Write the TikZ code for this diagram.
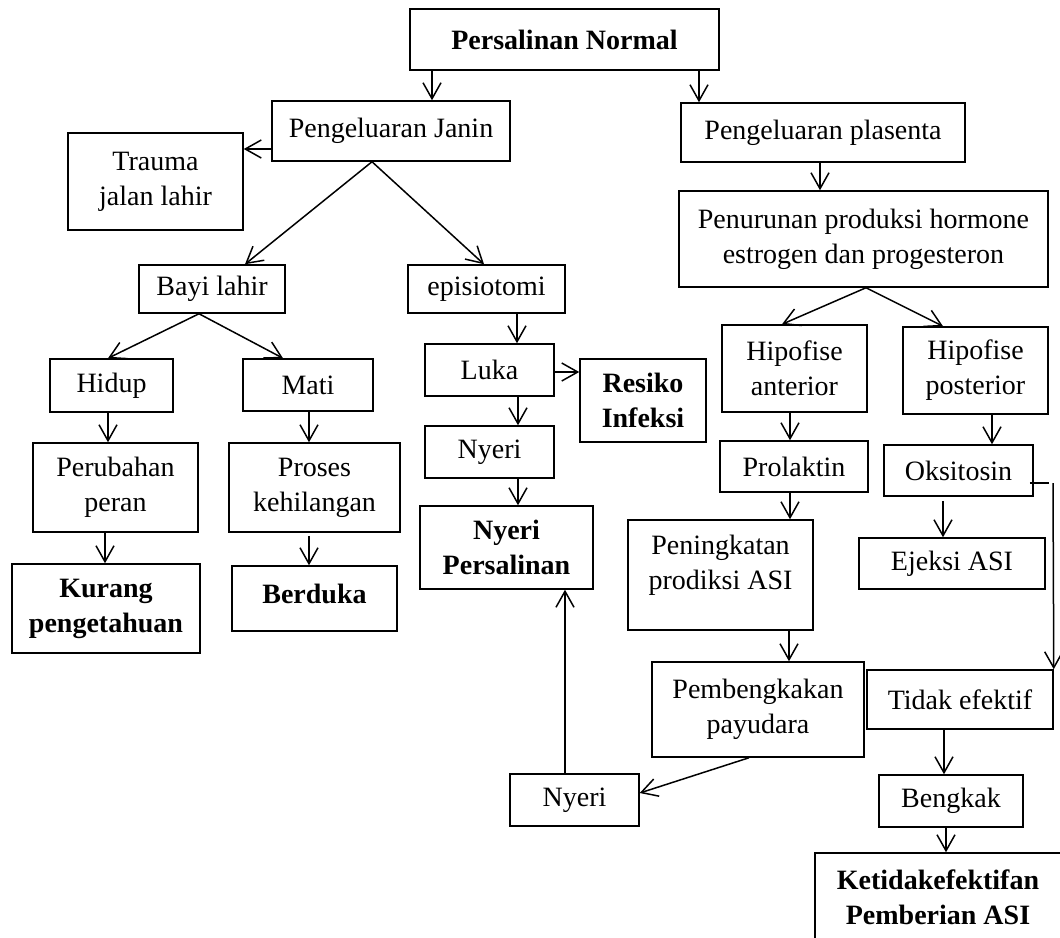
\documentclass[tikz,border=0pt]{standalone}
\usepackage{fontspec}
\setmainfont{Liberation Serif}
\usetikzlibrary{arrows.meta}
\begin{document}
\begin{tikzpicture}[x=0.5pt,y=-0.5pt,
  box/.style={draw, line width=0.75pt, align=center, inner sep=0pt, font=\fontsize{14}{17.5}\selectfont},
  bbox/.style={box, font=\fontsize{14}{17.5}\selectfont\bfseries},
  txt/.style={align=center, inner sep=0pt, font=\fontsize{14}{17.5}\selectfont},
  btxt/.style={txt, font=\fontsize{14}{17.5}\selectfont\bfseries},
  sz/.style 2 args={minimum width=#1*0.5pt, minimum height=#2*0.5pt},
  arr/.style={line width=0.75pt, -{Straight Barb[length=8pt,width=9pt]}},
  ln/.style={line width=0.75pt}]
\useasboundingbox (0,0) rectangle (1060,937);

% nodes
\node[bbox, sz={309}{61}] (pn) at (564.5,39.5) {Persalinan Normal};
\node[box, sz={238}{60}] (pj) at (391,131) {Pengeluaran Janin};
\node[box, sz={175}{97}] (tj) at (155.5,181.5) {Trauma\\jalan lahir};
\node[box, sz={284}{59}] (pp) at (823,132.5) {Pengeluaran plasenta};
\node[box, sz={369}{96}] (ph) at (863.5,239) {Penurunan produksi hormone\\estrogen dan progesteron};
\node[box, sz={146}{48}] (bl) at (212,289) {Bayi lahir};
\node[box, sz={157}{48}] (ep) at (486.5,289) {episiotomi};
\node[box, sz={123}{53}] (hd) at (111.5,385.5) {Hidup};
\node[box, sz={130}{52}] (mt) at (308,385) {Mati};
\node[box, sz={165}{89}] (pr) at (115.5,487.5) {Perubahan\\peran};
\node[box, sz={171}{89}] (pk) at (314.5,487.5) {Proses\\kehilangan};
\node[bbox, sz={188}{89}] (kp) at (106,608.5) {Kurang\\pengetahuan};
\node[box, sz={165}{65}] (bd) at (314.5,598.5) {};
\node[btxt] (bdt) at (314.5,594) {Berduka};
\node[box, sz={129}{52}] (lk) at (489.5,370) {Luka};
\node[bbox, sz={126}{83}] (ri) at (643,400.5) {Resiko\\Infeksi};
\node[box, sz={129}{52}] (ny) at (489.5,452) {Nyeri};
\node[bbox, sz={173}{83}] (np) at (506.5,547.5) {Nyeri\\Persalinan};
\node[box, sz={145}{87}] (ha) at (794.5,368.5) {Hipofise\\anterior};
\node[box, sz={145}{87}] (hp) at (975.5,370.5) {Hipofise\\posterior};
\node[box, sz={148}{51}] (pl) at (794,466.5) {Prolaktin};
\node[box, sz={149}{51}] (ok) at (958.5,470.5) {Oksitosin};
\node[box, sz={185}{110}] (pa) at (720.5,575) {};
\node[txt] (pat) at (720.5,565) {Peningkatan\\prodiksi ASI};
\node[box, sz={186}{51}] (ej) at (952,563.5) {Ejeksi ASI};
\node[box, sz={212}{95}] (pb) at (758,709.5) {Pembengkakan\\payudara};
\node[box, sz={186}{59}] (te) at (960,699.5) {Tidak efektif};
\node[box, sz={129}{52}] (ny2) at (574.5,800) {Nyeri};
\node[box, sz={144}{52}] (bk) at (951,801) {Bengkak};
\node[bbox, sz={246}{88}] (ka) at (938,897) {Ketidakefektifan\\Pemberian ASI};

% connectors
\draw[arr] (pn.south -| 432,0) -- (pj.north -| 432,0);
\draw[arr] (pn.south -| 699,0) -- (pp.north -| 699,0);
\draw[arr] (pj.west |- 0,149) -- (tj.east |- 0,149);
\coordinate (pjs) at (pj.south -| 372,0);
\draw[arr] (pjs) -- (bl.north -| 245,0);
\draw[arr] (pjs) -- (ep.north -| 484,0);
\draw[arr] (pp.south -| 820,0) -- (ph.north -| 820,0);
\coordinate (phs) at (ph.south -| 866,0);
\draw[arr] (phs) -- (ha.north -| 782,0);
\draw[arr] (phs) -- (hp.north -| 943,0);
\coordinate (bls) at (bl.south -| 199,0);
\draw[arr] (bls) -- (hd.north -| 108,0);
\draw[arr] (bls) -- (mt.north -| 283,0);
\draw[arr] (hd.south -| 108,0) -- (pr.north -| 108,0);
\draw[arr] (mt.south -| 309,0) -- (pk.north -| 309,0);
\draw[arr] (pr.south -| 105,0) -- (kp.north -| 105,0);
\draw[arr, shorten <=1.5pt] (pk.south -| 309,0) -- (bd.north -| 309,0);
\draw[arr] (ep.south -| 517,0) -- (lk.north -| 517,0);
\draw[arr] (lk.south -| 518,0) -- (ny.north -| 518,0);
\draw[arr] (ny.south -| 518,0) -- (np.north -| 518,0);
\draw[arr] (lk.east |- 0,372) -- (ri.west |- 0,372);
\draw[arr] (ha.south -| 790,0) -- (pl.north -| 790,0);
\draw[arr] (hp.south -| 992,0) -- (ok.north -| 992,0);
\draw[arr] (pl.south -| 790,0) -- (pa.north -| 790,0);
\draw[arr, shorten <=2pt] (ok.south -| 943,0) -- (ej.north -| 943,0);
\draw[arr] (pa.south -| 789,0) -- (pb.north -| 789,0);
\draw[arr] (pb.south -| 749,0) -- (ny2.east |- 0,793);
\draw[arr] (ny2.north -| 565,0) -- (np.south -| 565,0);
\coordinate (okc) at (1053,483);
\draw[ln] ([xshift=-2pt]ok.east |- okc) -- ([xshift=-2pt]okc);
\draw[arr] (okc) -- (te.north east);
\draw[arr] (te.south -| 944,0) -- (bk.north -| 944,0);
\draw[arr] (bk.south -| 946,0) -- (ka.north -| 946,0);
\end{tikzpicture}
\end{document}
